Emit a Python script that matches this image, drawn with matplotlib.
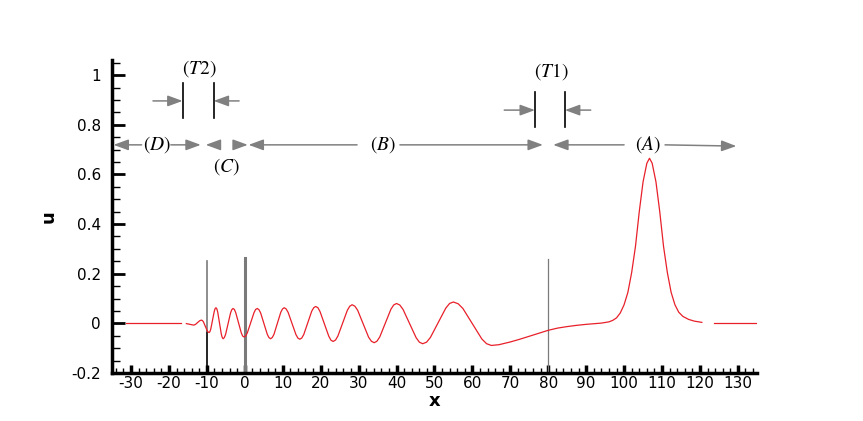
import numpy as np
import matplotlib
matplotlib.use("Agg")
import matplotlib.pyplot as plt
from matplotlib.ticker import MultipleLocator

plt.rcParams["axes.unicode_minus"] = False
plt.rcParams["mathtext.fontset"] = "stix"

# ------------------------------
# Data
# ------------------------------
x_flat_left = [-31.2, -16.7]
u_flat_left = [0.0, 0.0]

x_wave = [-15.4, -14.5, -13.5,
          -13.24, -12.98, -12.45, -11.93, -11.66, -11.4,
          -11.15, -10.9, -10.4, -9.9, -9.65, -9.4,
          -9.18, -8.95, -8.5, -8.05, -7.83, -7.6,
          -7.36, -7.13, -6.65, -6.18, -5.94, -5.7,
          -5.38, -5.05, -4.4, -3.75, -3.43, -3.1,
          -2.74, -2.38, -1.65, -0.93, -0.56, -0.2,
          0.24, 0.68, 1.55, 2.43, 2.86, 3.3,
          3.74, 4.18, 5.05, 5.93, 6.36, 6.8,
          7.25, 7.7, 8.6, 9.5, 9.95, 10.4,
          10.91, 11.43, 12.45, 13.48, 13.99, 14.5,
          15.03, 15.55, 16.6, 17.65, 18.18, 18.7,
          19.28, 19.85, 21.0, 22.15, 22.73, 23.3,
          23.93, 24.55, 25.8, 27.05, 27.68, 28.3,
          29.03, 29.75, 31.2, 32.65, 33.38, 34.1,
          34.84, 35.58, 37.05, 38.53, 39.26, 40.0,
          40.86, 41.73, 43.45, 45.18, 46.04, 46.9,
          47.91, 48.93, 50.95, 52.98, 53.99, 55.0,
          56.25, 57.5, 60.0, 62.5, 63.75, 65.0,
          67.0, 70.0, 72.5, 75.0, 77.5, 80.0, 82.5, 85.0, 87.5, 90.0,
          92.5, 94.0, 96.0, 97.0, 98.0, 99.0, 100.0, 101.0, 102.0, 103.0,
          104.0, 105.0, 106.0, 106.7, 107.4, 108.4, 109.4, 110.4, 111.4, 112.4,
          113.4, 114.4, 115.5, 117.0, 118.5, 120.0, 120.5]
u_wave = [-0.001, -0.004, -0.007,
          -0.006, -0.004, 0.003, 0.010, 0.012, 0.013,
          0.011, 0.006, -0.012, -0.030, -0.035, -0.037,
          -0.033, -0.022, 0.013, 0.048, 0.059, 0.063,
          0.058, 0.045, 0.0005, -0.044, -0.057, -0.062,
          -0.057, -0.044, -0.001, 0.042, 0.055, 0.060,
          0.056, 0.043, 0.0025, -0.038, -0.051, -0.055,
          -0.051, -0.038, 0.0025, 0.043, 0.056, 0.060,
          0.055, 0.042, -0.001, -0.044, -0.057, -0.062,
          -0.057, -0.044, 0.0005, 0.045, 0.058, 0.063,
          0.058, 0.044, -0.0005, -0.045, -0.059, -0.064,
          -0.059, -0.045, 0.002, 0.049, 0.063, 0.068,
          0.063, 0.047, -0.0025, -0.052, -0.068, -0.073,
          -0.067, -0.051, 0.001, 0.053, 0.069, 0.075,
          0.069, 0.053, -0.0015, -0.056, -0.072, -0.078,
          -0.072, -0.055, 0.001, 0.057, 0.074, 0.080,
          0.074, 0.056, -0.001, -0.058, -0.076, -0.082,
          -0.076, -0.057, 0.002, 0.061, 0.080, 0.086,
          0.079, 0.060, -0.0015, -0.063, -0.082, -0.089,
          -0.086, -0.075, -0.064, -0.052, -0.040, -0.028, -0.019, -0.013, -0.008, -0.004,
          -0.001, 0.001, 0.006, 0.012, 0.022, 0.042, 0.075, 0.125, 0.205, 0.31,
          0.45, 0.57, 0.645, 0.665, 0.645, 0.57, 0.45, 0.31, 0.205, 0.125,
          0.075, 0.045, 0.028, 0.016, 0.009, 0.005, 0.004]

x_flat_right = [123.6, 135.0]
u_flat_right = [0.0, 0.0]

# vertical marker lines: position, top
vline_x = [-10, 0, 80]
vline_top = [0.25, 0.265, 0.26]

# region labels
region_labels = ["D", "C", "B", "A"]
region_x = [-23.2, -4.7, 36.4, 106.3]
region_u = [0.719, 0.632, 0.719, 0.719]

# arrows on the region row: (tail x, tail u, tip x, tip u)
region_arrows = [
    (-27.2, 0.719, -34.6, 0.719),
    (-19.5, 0.719, -11.6, 0.719),
    (-6.6, 0.719, -10.3, 0.719),
    (-2.4, 0.719, 0.8, 0.719),
    (29.6, 0.719, 1.0, 0.719),
    (40.9, 0.719, 78.6, 0.719),
    (100.0, 0.719, 81.3, 0.719),
    (110.8, 0.719, 129.6, 0.714),
]

# gauge markers T2 and T1
gauge_names = ["T2", "T1"]
gauge_left = [-16.4, 76.5]
gauge_right = [-8.2, 84.4]
gauge_bar_lo = [0.826, 0.79]
gauge_bar_hi = [0.967, 0.933]
gauge_arrow_u = [0.896, 0.859]
gauge_tail_left = [-24.2, 68.4]
gauge_tail_right = [-1.5, 91.2]
gauge_label_x = [-11.9, 80.9]
gauge_label_u = [1.027, 1.013]

y_ticks = [-0.2, 0.0, 0.2, 0.4, 0.6, 0.8, 1.0]
y_tick_labels = ["-0.2", "0", "0.2", "0.4", "0.6", "0.8", "1"]
x_ticks = list(range(-30, 131, 10))

# ------------------------------
# Figure
# ------------------------------
fig = plt.figure(figsize=(8.63, 4.21), dpi=100)
ax = fig.add_axes([0.1298, 0.114, 0.7472, 0.743])

# vertical lines
ax.plot([vline_x[0]] * 2, [-0.2, -0.03], color="black", lw=1.2)
ax.plot([vline_x[0]] * 2, [-0.03, vline_top[0]], color="#7a7a7a", lw=1.2)
ax.plot([vline_x[1]] * 2, [-0.2, vline_top[1]], color="#7a7a7a", lw=2.2)
ax.plot([vline_x[2]] * 2, [-0.2, vline_top[2]], color="#7a7a7a", lw=0.9)

# the curve
for xs, us in [(x_flat_left, u_flat_left), (x_wave, u_wave), (x_flat_right, u_flat_right)]:
    ax.plot(xs, us, color="#e8202a", lw=0.9)

# region arrows
arrow_kw = dict(arrowstyle="-|>,head_length=0.9,head_width=0.33", color="#808080",
                lw=1.1, shrinkA=0, shrinkB=0, mutation_scale=10)
for x0, y0, x1, y1 in region_arrows:
    ax.annotate("", xy=(x1, y1), xytext=(x0, y0), arrowprops=arrow_kw)

for lab, xx, uu in zip(region_labels, region_x, region_u):
    ax.text(xx, uu, r"$\left(\mathit{" + lab + r"}\right)$", fontsize=14,
            ha="center", va="center")

# gauges
for i in range(2):
    ax.plot([gauge_left[i]] * 2, [gauge_bar_lo[i], gauge_bar_hi[i]], color="black", lw=1.2)
    ax.plot([gauge_right[i]] * 2, [gauge_bar_lo[i], gauge_bar_hi[i]], color="black", lw=1.2)
    ax.annotate("", xy=(gauge_left[i], gauge_arrow_u[i]),
                xytext=(gauge_tail_left[i], gauge_arrow_u[i]), arrowprops=arrow_kw)
    ax.annotate("", xy=(gauge_right[i], gauge_arrow_u[i]),
                xytext=(gauge_tail_right[i], gauge_arrow_u[i]), arrowprops=arrow_kw)
    ax.text(gauge_label_x[i], gauge_label_u[i],
            r"$\left(\mathit{" + gauge_names[i] + r"}\right)$", fontsize=14,
            ha="center", va="center")

# axes styling
ax.set_xlim(-35, 135)
ax.set_ylim(-0.2, 1.06)
ax.spines["top"].set_visible(False)
ax.spines["right"].set_visible(False)
ax.spines["left"].set_linewidth(2.5)
ax.spines["bottom"].set_linewidth(2.5)

ax.set_xticks(x_ticks)
ax.set_yticks(y_ticks, y_tick_labels)
ax.xaxis.set_minor_locator(MultipleLocator(2))
ax.yaxis.set_minor_locator(MultipleLocator(0.05))

ax.tick_params(axis="x", which="major", direction="in", length=6, width=2.5, pad=2)
ax.tick_params(axis="x", which="minor", direction="in", length=3.5, width=1)
ax.tick_params(axis="y", which="major", direction="in", length=9, width=2, pad=8)
ax.tick_params(axis="y", which="minor", direction="in", length=6, width=1)

for lab in ax.get_xticklabels() + ax.get_yticklabels():
    lab.set_fontfamily("DejaVu Sans")
    lab.set_fontsize(11)

ax.set_xlabel("x", fontfamily="DejaVu Sans", fontweight="bold", fontsize=13, labelpad=1)
ax.set_ylabel("u", fontfamily="DejaVu Sans", fontweight="bold", fontsize=13, labelpad=10)

fig.savefig("out.png", dpi=100)
